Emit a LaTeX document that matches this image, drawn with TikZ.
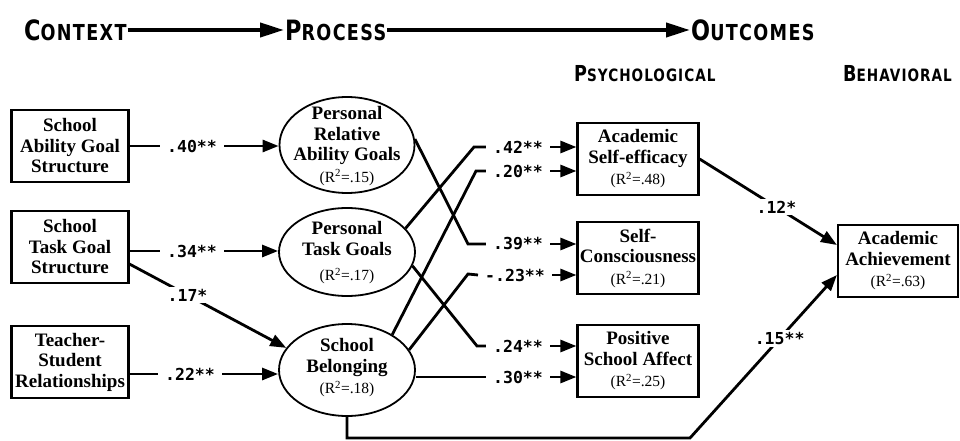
\documentclass[tikz,border=0pt]{standalone}
\usepackage{fontspec}
\setmainfont{Liberation Serif}
\newfontfamily\hdrfont{DejaVu Sans}[FakeStretch=0.8,LetterSpace=6]
\newfontfamily\numfont{DejaVu Sans Mono}
\usetikzlibrary{arrows.meta,calc,shapes.geometric}
\newcommand\bxfont{\fontsize{19}{20.5}\selectfont\bfseries}
\newcommand\nmfont{\numfont\bfseries\fontsize{16.5}{16.5}\selectfont}
\newcommand\rsq[1]{{\fontsize{15.5}{15.5}\selectfont\mdseries (R\textsuperscript{2}=#1)}}
\newcommand\hbig{\fontsize{28}{28}\selectfont}
\newcommand\hsm{\fontsize{22}{22}\selectfont}
\newcommand\sbig{\fontsize{22}{22}\selectfont}
\newcommand\ssm{\fontsize{17}{17}\selectfont}
\begin{document}
\begin{tikzpicture}[x=1pt,y=-1pt,
 every node/.style={inner sep=0pt},
 box/.style={draw,line width=2.2pt,minimum width=117pt,minimum height=72pt,align=center,font=\bxfont},
 oval/.style={draw,ellipse,line width=1.8pt},
 otext/.style={align=center,font=\bxfont},
 lbl/.style={font=\nmfont,inner xsep=7pt,inner ysep=2pt},
 olbl/.style={font=\nmfont,inner sep=2pt,fill=white},
 conn/.style={line width=2.8pt},
 arr/.style={conn,-{Triangle[length=16pt,width=12pt]}},
 bigarr/.style={line width=4pt,-{Triangle[length=24pt,width=14pt]}},
 hd/.style={font=\hdrfont\bfseries,anchor=west,inner sep=1pt}
]
\useasboundingbox (0,0) rectangle (960,441);

% headers
\node[hd] (ctx) at (23,30) {\hbig C\hsm ONTEXT};
\node[hd] (proc) at (284,30) {\hbig P\hsm ROCESS};
\node[hd] (outc) at (690,30) {\hbig O\hsm UTCOMES};
\node[hd] (psy) at (573,74) {\sbig P\ssm SYCHOLOGICAL};
\node[hd] (beh) at (842,74) {\sbig B\ssm EHAVIORAL};
\draw[bigarr] (ctx.east) -- (proc.west);
\draw[bigarr] (proc.east) -- (outc.west);

% context boxes
\node[box] (b1) at (70,146) {School\\Ability Goal\\Structure};
\node[box] (b2) at (70,247) {School\\Task Goal\\Structure};
\node[box] (b3) at (70,362) {Teacher-\\Student\\Relationships};

% process ellipses
\node[oval,minimum width=135pt,minimum height=96pt] (e1) at (347,145) {};
\node[otext] (e1t) at (347,146) {Personal\\Relative\\Ability Goals\\[1pt]\rsq{.15}};
\node[oval,minimum width=136pt,minimum height=88pt] (e2) at (347,252) {};
\node[otext] (e2t) at (347,253) {Personal\\Task Goals\\[5pt]\rsq{.17}};
\node[oval,minimum width=136pt,minimum height=92pt] (e3) at (347,370) {};
\node[otext] (e3t) at (347,368) {School\\Belonging\\[1pt]\rsq{.18}};

% outcome boxes
\node[box,minimum width=121pt] (s1) at (638,159) {Academic\\Self-efficacy\\[1pt]\rsq{.48}};
\node[box,minimum width=121pt] (s2) at (638,258) {Self-\\Consciousness\\[1pt]\rsq{.21}};
\node[box,minimum width=121pt] (s3) at (638,361) {Positive\\School Affect\\[1pt]\rsq{.25}};
\node[box,minimum width=120pt] (aa) at (898,261) {Academic\\Achievement\\[1pt]\rsq{.63}};

% left paths
\node[lbl] (l40) at (192,146) {.40**};
\node[lbl] (l34) at (192,251) {.34**};
\node[lbl] (l22) at (190,374) {.22**};
\draw[conn] (b1.east|-l40) -- (l40.west);
\draw[arr] (l40.east) -- (e1.west|-l40);
\draw[conn] (b2.east|-l34) -- (l34.west);
\draw[arr] (l34.east) -- (e2.west|-l34);
\draw[conn] (b3.east|-l22) -- (l22.west);
\draw[arr] (l22.east) -- (e3.west|-l22);
\coordinate (c17) at ($(b2.south east)+(0,-20)$);
\draw[arr] (c17) -- node[olbl,pos=0.37] (l17) {.17*} (e3.160);

% middle paths
\coordinate (c42) at (474,147);
\coordinate (c20) at (476,171);
\coordinate (c39) at (468,244);
\coordinate (c23) at (468,274);
\coordinate (c24) at (477,346);
\node[lbl,anchor=east] (l42) at (550,147) {.42**};
\node[lbl,anchor=east] (l20) at (550,171) {.20**};
\node[lbl,anchor=east] (l39) at (550,244) {.39**};
\node[lbl,anchor=east] (l23) at (552,275) {-.23**};
\node[lbl,anchor=east] (l24) at (550,346) {.24**};
\node[lbl,anchor=east] (l30) at (550,377) {.30**};
\draw[conn] (e2.22) -- (c42) -- (l42.west);
\draw[conn] (e3.38) -- (c20) -- (l20.west);
\draw[conn] (e1.5) -- (c39) -- (l39.west);
\draw[conn] (e3.18) -- (c23) -- (l23.west);
\draw[conn] (e2.-12) -- (c24) -- (l24.west);
\draw[conn] (e3.east|-l30) -- (l30.west);
\draw[arr] (l42.east) -- (s1.west|-l42);
\draw[arr] (l20.east) -- (s1.west|-l20);
\draw[arr] (l39.east) -- (s2.west|-l39);
\draw[arr] (l23.east) -- (s2.west|-l23);
\draw[arr] (l24.east) -- (s3.west|-l24);
\draw[arr] (l30.east) -- (s3.west|-l30);

% to achievement
\coordinate (a12) at ($(aa.west)+(0,-16)$);
\coordinate (a15) at ($(aa.west)+(0,14)$);
\coordinate (k15) at (690,438);
\draw[arr] (s1.east) -- node[olbl,pos=0.56] (l12) {.12*} (a12);
\draw[arr] (e3.south) |- (k15) -- node[olbl,pos=0.61] (l15) {.15**} (a15);
\end{tikzpicture}
\end{document}
